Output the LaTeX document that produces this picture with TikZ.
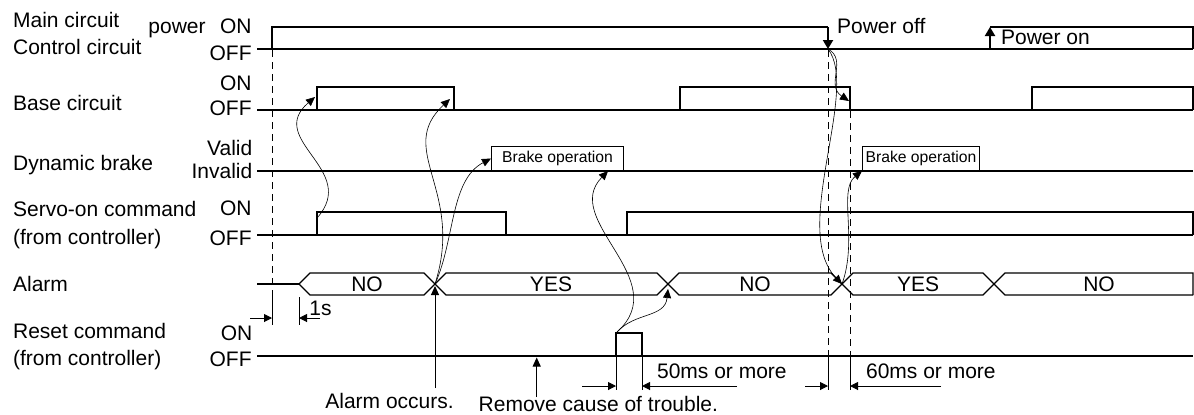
\documentclass[tikz,border=0pt]{standalone}
\usepackage{fontspec}
\setmainfont{Liberation Sans}
\usetikzlibrary{arrows.meta,positioning}

\begin{document}
\begin{tikzpicture}[
  x=0.5pt, y=-0.5pt,
  % Text styles
  lbl/.style={font=\fontsize{10.5}{12.6}\selectfont, inner sep=0pt, anchor=base west},
  lvl/.style={font=\fontsize{10.5}{12.6}\selectfont, inner sep=0pt, anchor=base east},
  bustxt/.style={font=\fontsize{10.5}{12.6}\selectfont, inner sep=0pt, anchor=base},
  brk/.style={draw, line width=0.5pt, fill=white, font=\fontsize{7.85}{9}\selectfont,
              inner sep=0pt, minimum height=12pt, anchor=south west},
  % Line styles
  rail/.style={line width=1.1pt},
  sig/.style={line width=0.6pt},
  guide/.style={line width=0.5pt, dash pattern=on 3.5pt off 2.5pt},
  ext/.style={line width=0.5pt},
  % Arrow styles
  cause/.style={-{Triangle[length=4.5pt, width=4pt]}, line width=0.3pt},
  dimarr/.style={-{Triangle[length=4pt, width=4pt]}, line width=0.5pt},
  pwr/.style={-{Triangle[length=4.5pt, width=5pt]}, line width=1pt},
  evt/.style={-{Triangle[length=4.5pt, width=4pt]}, line width=0.5pt},
]
\useasboundingbox (0,0) rectangle (1194,414);

% === Signal names ===
\node[lbl] (nMain)  at (12.7,27)   {Main circuit};
\node[lbl] (nCtrl)  at (12.7,54.5) {Control circuit};
\node[lbl] (nPower) at (148,33.3)  {power};
\node[lbl] (nBase)  at (12.7,110)  {Base circuit};
\node[lbl] (nDyn)   at (12.7,170)  {Dynamic brake};
\node[lbl] (nServo) at (12.7,216.7) {Servo-on command};
\node[lbl] (nServoC) at (12.7,244) {(from controller)};
\node[lbl] (nAlarm) at (12.7,291.7) {Alarm};
\node[lbl] (nReset) at (12.7,338)  {Reset command};
\node[lbl] (nResetC) at (12.7,365) {(from controller)};

% === Levels ===
\node[lvl] (mainOn)   at (252,33.3)  {ON};
\node[lvl] (mainOff)  at (252,60)    {OFF};
\node[lvl] (baseOn)   at (252,90.7)  {ON};
\node[lvl] (baseOff)  at (252,115)   {OFF};
\node[lvl] (dynValid) at (252.7,155) {Valid};
\node[lvl] (dynInv)   at (252.7,178.3) {Invalid};
\node[lvl] (servoOn)  at (252,215)   {ON};
\node[lvl] (servoOff) at (252,245)   {OFF};
\node[lvl] (resetOn)  at (252.7,340) {ON};
\node[lvl] (resetOff) at (252,366.7) {OFF};

% === Event points ===
\coordinate (pwrOff) at (828,49);
\coordinate (pwrOn)  at (990,49);
\coordinate (almX1) at (435,284);
\coordinate (almX2) at (668,284);
\coordinate (almX3) at (842,284);
\coordinate (rstTop) at (617,332);

% === Main / control circuit power ===
\draw[rail] (257,49) -- (1193,49);
\draw[sig] (272,49) -- (272,27) -- (828,27);
\draw[pwr] (828,27) -- (pwrOff);
\draw[pwr] (pwrOn) -- (990,27);
\draw[sig] (990,27) -- (1193,27) -- (1193,49);
\node[lbl] (tOff) at (836.7,33.3) {Power off};
\node[lbl] (tOn)  at (1000.7,44)  {Power on};

% === Base circuit ===
\draw[rail] (257,110) -- (1193,110);
\draw[sig] (317,110) -- (317,87) -- (454,87) -- (454,110);
\draw[sig] (680,110) -- (680,87) -- (850,87) -- (850,110);
\draw[sig] (1032,110) -- (1032,87) -- (1193,87) -- (1193,110);

% === Dynamic brake ===
\draw[rail] (257,171) -- (1193,171);
\node[brk, minimum width=66pt]   (brk1) at (491,171) {Brake operation};
\node[brk, minimum width=58.5pt] (brk2) at (862,171) {Brake operation};

% === Servo-on command ===
\draw[rail] (257,235) -- (1193,235);
\draw[sig] (317,235) -- (317,212) -- (506,212) -- (506,235);
\draw[sig] (627,235) -- (627,212) -- (1193,212) -- (1193,235);

% === Alarm ===
\draw[rail] (257,284) -- (299,284);
\draw[sig] (299,284) -- (310,273) -- (424,273) -- (446,295) -- (657,295) -- (679,273)
  -- (831,273) -- (853,295) -- (983,295) -- (1005,273) -- (1193,273) -- (1193,295);
\draw[sig] (299,284) -- (310,295) -- (424,295) -- (446,273) -- (657,273) -- (679,295)
  -- (831,295) -- (853,273) -- (983,273) -- (1005,295) -- (1193,295);
\node[bustxt] (a1) at (367,291.5)  {NO};
\node[bustxt] (a2) at (551,291.5)  {YES};
\node[bustxt] (a3) at (755,291.5)  {NO};
\node[bustxt] (a4) at (918,291.5)  {YES};
\node[bustxt] (a5) at (1099,291.5) {NO};

% === Reset command ===
\draw[rail] (257,356) -- (1193,356);
\draw[sig] (616,356) -- (616,333) -- (642,333) -- (642,356);

% === Timing guides ===
\draw[guide] (272,50) -- (272,297);
\draw[guide] (828,50) -- (828,356);
\draw[guide] (850,111) -- (850,356);
\draw[ext] (272,297) -- (272,325);
\draw[ext] (299,297) -- (299,325);
\draw[ext] (616,357) -- (616,390);
\draw[ext] (642,357) -- (642,390);
\draw[ext] (828,357) -- (828,390);
\draw[ext] (850,357) -- (850,390);

\draw[dimarr] (250,318) -- (272,318);
\draw[dimarr] (320,318) -- (299,318);
\node[lbl] (t1s) at (309,315) {1s};
\draw[dimarr] (582,386) -- (616,386);
\draw[dimarr] (737,386) -- (642,386);
\node[lbl] (t50) at (656.7,378.3) {50ms or more};
\draw[dimarr] (805,386) -- (828,386);
\draw[dimarr] (941,386) -- (850,386);
\node[lbl] (t60) at (865.7,378.3) {60ms or more};

% === Causes ===
\node[lbl] (tOcc) at (325,408.3) {Alarm occurs.};
\node[lbl] (tRem) at (478.3,411)  {Remove cause of trouble.};
\draw[evt] (435,388) -- (435,286);
\draw[evt] (536.7,397) -- (536.7,357.5);

\draw[cause] (317,218) .. controls (360,170) and (265,140) .. (315,97);
\draw[cause] (almX1) .. controls (465,190) and (395,150) .. (450,99);
\draw[cause] (almX1) .. controls (455,240) and (450,180) .. (brk1.west);
\draw[cause] (rstTop) .. controls (675,280) and (560,220) .. ([xshift=-8pt]brk1.south east);
\draw[cause] (rstTop) .. controls (635,312) and (665,318) .. ([yshift=-2.5pt]almX2);
\draw[cause] (pwrOff) .. controls (848,60) and (825,85) .. (849,101);
\draw[cause] (pwrOff) .. controls (860,90) and (790,230) .. (almX3);
\draw[cause] (almX3) .. controls (858,240) and (838,190) .. (brk2.south west);

\end{tikzpicture}
\end{document}
